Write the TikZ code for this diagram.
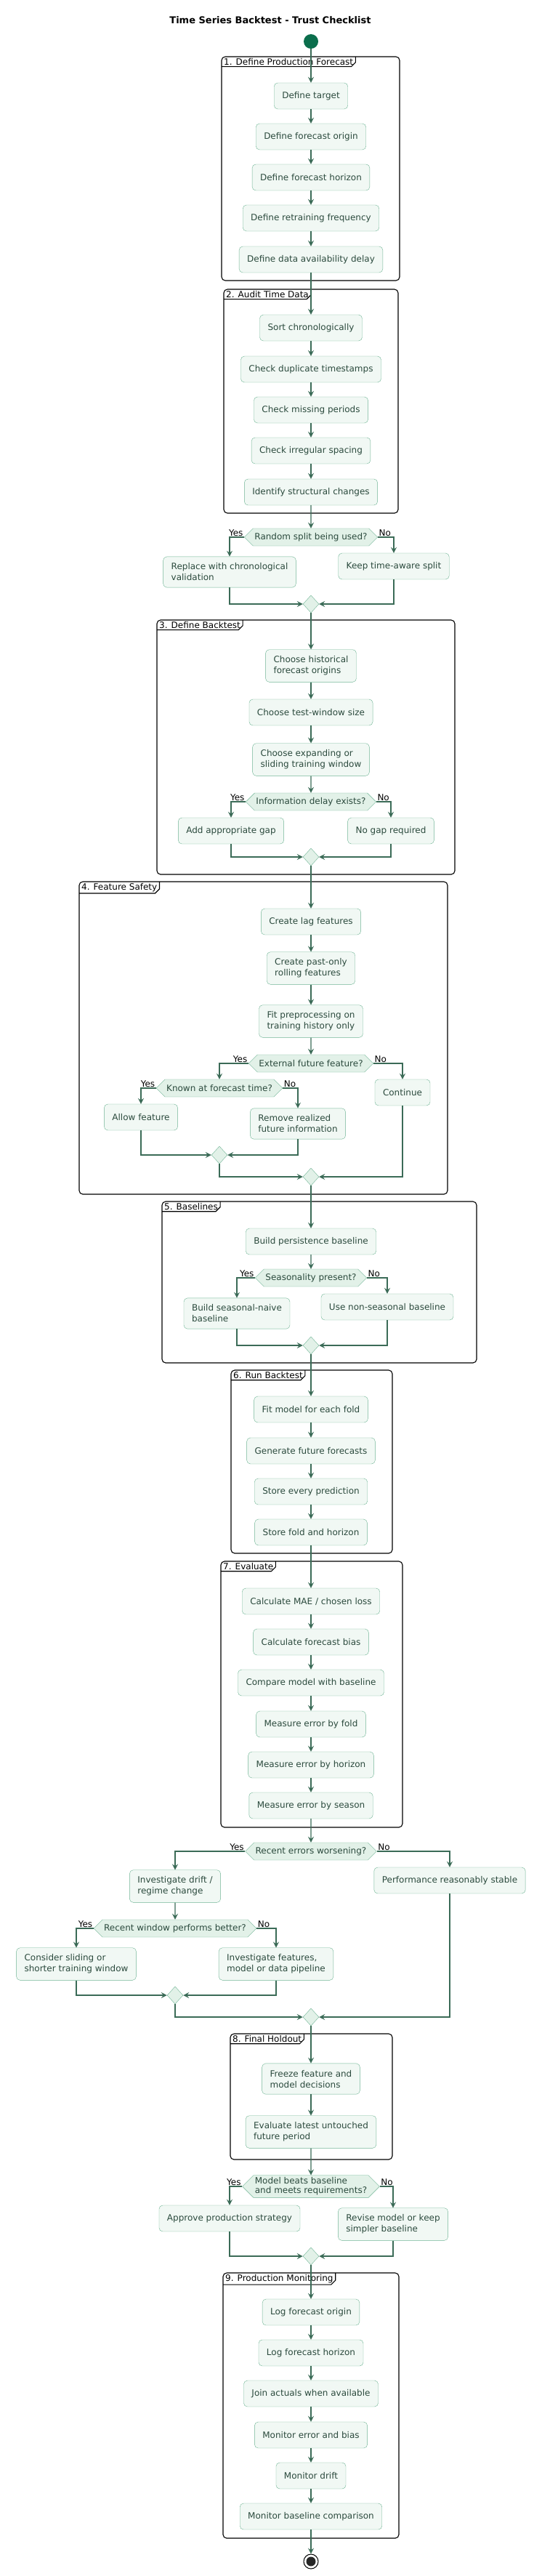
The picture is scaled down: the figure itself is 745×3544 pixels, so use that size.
\documentclass[tikz,border=0pt]{standalone}
\usepackage{fontspec}
\setmainfont{DejaVu Sans}
\usetikzlibrary{shapes.geometric,shapes.symbols,arrows.meta}
\definecolor{actfill}{HTML}{F1F8F4}
\definecolor{actline}{HTML}{6DB393}
\definecolor{decfill}{HTML}{E2F1E8}
\definecolor{flowc}{HTML}{3B6B57}
\definecolor{txtc}{HTML}{2B4A3D}
\definecolor{startc}{HTML}{0B6E4C}
\tikzset{
 act/.style={draw=actline,fill=actfill,rounded corners=5pt,text=txtc,align=left,
  font=\fontsize{12}{15}\selectfont,minimum height=36pt,inner xsep=11pt,inner ysep=9pt},
 dec/.style={draw=actline,fill=decfill,shape=signal,signal to=east and west,text=txtc,align=left,
  font=\fontsize{12}{13}\selectfont,inner xsep=2pt,inner ysep=3pt,minimum height=24pt},
 mrg/.style={draw=actline,fill=decfill,diamond,minimum width=22pt,minimum height=24pt,inner sep=0pt},
 flow/.style={draw=flowc,line width=1.4pt,-{Stealth[length=8pt,width=8pt,inset=3pt]}},
 plain/.style={draw=flowc,line width=1.4pt},
 frm/.style={draw=black,line width=1.1pt,rounded corners=5pt},
 yes/.style={font=\fontsize{12}{13}\selectfont,anchor=south east,inner sep=1pt},
 no/.style={font=\fontsize{12}{13}\selectfont,anchor=south west,inner sep=1pt},
}
% one group frame with its tab
\newcommand{\grp}[6]{%
 \draw[frm] (#1,#2) rectangle (#3,#4);
 \node[anchor=north west,inner xsep=3pt,inner ysep=2pt,font=\fontsize{12}{13}\selectfont] (#5) at (#1,#2) {#6};
 \draw[line width=1.1pt] (#5.south west) -- ([xshift=-6pt]#5.south east) -- ([yshift=6pt]#5.south east) -- (#5.north east);}
\begin{document}
\begin{tikzpicture}[x=1pt,y=-1pt]
 \useasboundingbox (0,0) rectangle (745,3544);
 \node[font=\bfseries\fontsize{13}{15}\selectfont] (title) at (372,28) {Time Series Backtest - Trust Checklist};
 \node[circle,fill=startc,minimum size=20pt,inner sep=0pt] (start) at (428,57) {};
 % groups
 \grp{305}{78}{550}{386}{g1}{1. Define Production Forecast}
 \grp{308}{398}{548}{706}{g2}{2. Audit Time Data}
 \grp{216}{853}{626}{1203}{g3}{3. Define Backtest}
 \grp{109}{1213}{616}{1643}{g4}{4. Feature Safety}
 \grp{223}{1653}{656}{1875}{g5}{5. Baselines}
 \grp{318}{1885}{540}{2137}{g6}{6. Run Backtest}
 \grp{304}{2148}{554}{2514}{g7}{7. Evaluate}
 \grp{317}{2798}{540}{2971}{g8}{8. Final Holdout}
 \grp{307}{3127}{549}{3492}{g9}{9. Production Monitoring}
 % 1
 \node[act] (target) at (428,132) {Define target};
 \node[act] (origin) at (428,188) {Define forecast origin};
 \node[act] (horizon) at (428,244) {Define forecast horizon};
 \node[act] (retrain) at (428,300) {Define retraining frequency};
 \node[act] (delay) at (428,357) {Define data availability delay};
 % 2
 \node[act] (sort) at (428,451) {Sort chronologically};
 \node[act] (dup) at (428,508) {Check duplicate timestamps};
 \node[act] (missing) at (428,564) {Check missing periods};
 \node[act] (irreg) at (428,620) {Check irregular spacing};
 \node[act] (struct) at (428,677) {Identify structural changes};
 \node[dec] (random) at (428,739) {Random split being used?};
 \node[act] (replace) at (316,787) {Replace with chronological\\validation};
 \node[act] (keep) at (542,779) {Keep time-aware split};
 \node[mrg] (m1) at (428,831) {};
 % 3
 \node[act] (hist) at (428,916) {Choose historical\\forecast origins};
 \node[act] (testwin) at (428,980) {Choose test-window size};
 \node[act] (expand) at (428,1045) {Choose expanding or\\sliding training window};
 \node[dec] (infodelay) at (428,1103) {Information delay exists?};
 \node[act] (gap) at (318,1143) {Add appropriate gap};
 \node[act] (nogap) at (538,1143) {No gap required};
 \node[mrg] (m2) at (428,1179) {};
 % 4
 \node[act] (lag) at (428,1268) {Create lag features};
 \node[act] (pastonly) at (428,1332) {Create past-only\\rolling features};
 \node[act] (prep) at (428,1405) {Fit preprocessing on\\training history only};
 \node[dec] (external) at (428,1463) {External future feature?};
 \node[dec] (known) at (302,1497) {Known at forecast time?};
 \node[act] (allow) at (194,1537) {Allow feature};
 \node[act] (remove) at (410,1546) {Remove realized\\future information};
 \node[act] (cont) at (554,1503) {Continue};
 \node[mrg] (m3) at (302,1589) {};
 \node[mrg] (m4) at (428,1619) {};
 % 5
 \node[act] (persist) at (428,1708) {Build persistence baseline};
 \node[dec] (season) at (428,1758) {Seasonality present?};
 \node[act] (naive) at (326,1807) {Build seasonal-naive\\baseline};
 \node[act] (nonseas) at (533,1798) {Use non-seasonal baseline};
 \node[mrg] (m5) at (428,1851) {};
 % 6
 \node[act] (fitfold) at (428,1939) {Fit model for each fold};
 \node[act] (generate) at (428,1996) {Generate future forecasts};
 \node[act] (storepred) at (428,2052) {Store every prediction};
 \node[act] (storefold) at (428,2108) {Store fold and horizon};
 % 7
 \node[act] (mae) at (428,2203) {Calculate MAE / chosen loss};
 \node[act] (bias) at (428,2259) {Calculate forecast bias};
 \node[act] (compare) at (428,2315) {Compare model with baseline};
 \node[act] (byfold) at (428,2372) {Measure error by fold};
 \node[act] (byhor) at (428,2428) {Measure error by horizon};
 \node[act] (byseas) at (428,2484) {Measure error by season};
 \node[dec] (worse) at (428,2547) {Recent errors worsening?};
 \node[act] (drift) at (241,2595) {Investigate drift /\\regime change};
 \node[act] (stable) at (619,2587) {Performance reasonably stable};
 \node[dec] (window) at (241,2653) {Recent window performs better?};
 \node[act] (sliding) at (105,2702) {Consider sliding or\\shorter training window};
 \node[act] (invfeat) at (380,2702) {Investigate features,\\model or data pipeline};
 \node[mrg] (m6) at (241,2745) {};
 \node[mrg] (m7) at (428,2775) {};
 % 8
 \node[act] (freeze) at (428,2860) {Freeze feature and\\model decisions};
 \node[act] (untouched) at (428,2933) {Evaluate latest untouched\\future period};
 \node[dec] (beats) at (428,3008) {Model beats baseline\\and meets requirements?};
 \node[act] (approve) at (316,3052) {Approve production strategy};
 \node[act] (revise) at (541,3060) {Revise model or keep\\simpler baseline};
 \node[mrg] (m8) at (428,3104) {};
 % 9
 \node[act] (logorigin) at (428,3181) {Log forecast origin};
 \node[act] (loghor) at (428,3237) {Log forecast horizon};
 \node[act] (join) at (428,3293) {Join actuals when available};
 \node[act] (monerr) at (428,3350) {Monitor error and bias};
 \node[act] (mondrift) at (428,3406) {Monitor drift};
 \node[act] (monbase) at (428,3462) {Monitor baseline comparison};
 \node[circle,draw=black,fill=white,line width=1pt,minimum size=20pt,inner sep=0pt] (stop) at (428,3524) {};
 \fill[black!85] (stop) circle (6.5pt);
 % straight flows
 \draw[flow] (start) -- (target);
 \draw[flow] (target) -- (origin);
 \draw[flow] (origin) -- (horizon);
 \draw[flow] (horizon) -- (retrain);
 \draw[flow] (retrain) -- (delay);
 \draw[flow] (delay) -- (sort);
 \draw[flow] (sort) -- (dup);
 \draw[flow] (dup) -- (missing);
 \draw[flow] (missing) -- (irreg);
 \draw[flow] (irreg) -- (struct);
 \draw[flow] (struct) -- (random);
 \draw[flow] (m1) -- (hist);
 \draw[flow] (hist) -- (testwin);
 \draw[flow] (testwin) -- (expand);
 \draw[flow] (expand) -- (infodelay);
 \draw[flow] (m2) -- (lag);
 \draw[flow] (lag) -- (pastonly);
 \draw[flow] (pastonly) -- (prep);
 \draw[flow] (prep) -- (external);
 \draw[flow] (m4) -- (persist);
 \draw[flow] (persist) -- (season);
 \draw[flow] (m5) -- (fitfold);
 \draw[flow] (fitfold) -- (generate);
 \draw[flow] (generate) -- (storepred);
 \draw[flow] (storepred) -- (storefold);
 \draw[flow] (storefold) -- (mae);
 \draw[flow] (mae) -- (bias);
 \draw[flow] (bias) -- (compare);
 \draw[flow] (compare) -- (byfold);
 \draw[flow] (byfold) -- (byhor);
 \draw[flow] (byhor) -- (byseas);
 \draw[flow] (byseas) -- (worse);
 \draw[flow] (drift) -- (window);
 \draw[flow] (m7) -- (freeze);
 \draw[flow] (freeze) -- (untouched);
 \draw[flow] (untouched) -- (beats);
 \draw[flow] (m8) -- (logorigin);
 \draw[flow] (logorigin) -- (loghor);
 \draw[flow] (loghor) -- (join);
 \draw[flow] (join) -- (monerr);
 \draw[flow] (monerr) -- (mondrift);
 \draw[flow] (mondrift) -- (monbase);
 \draw[flow] (monbase) -- (stop);
 % branches
 \draw[flow] (random.west) node[yes] {Yes} -| (replace.north);
 \draw[flow] (random.east) node[no] {No} -| (keep.north);
 \draw[flow] (replace.south) |- (m1.west);
 \draw[flow] (keep.south) |- (m1.east);
 \draw[flow] (infodelay.west) node[yes] {Yes} -| (gap.north);
 \draw[flow] (infodelay.east) node[no] {No} -| (nogap.north);
 \draw[flow] (gap.south) |- (m2.west);
 \draw[flow] (nogap.south) |- (m2.east);
 \draw[flow] (external.west) node[yes] {Yes} -| (known.north);
 \draw[flow] (external.east) node[no] {No} -| (cont.north);
 \draw[flow] (known.west) node[yes] {Yes} -| (allow.north);
 \draw[flow] (known.east) node[no] {No} -| (remove.north);
 \draw[flow] (allow.south) |- (m3.west);
 \draw[flow] (remove.south) |- (m3.east);
 \draw[flow] (m3.south) |- (m4.west);
 \draw[flow] (cont.south) |- (m4.east);
 \draw[flow] (season.west) node[yes] {Yes} -| (naive.north);
 \draw[flow] (season.east) node[no] {No} -| (nonseas.north);
 \draw[flow] (naive.south) |- (m5.west);
 \draw[flow] (nonseas.south) |- (m5.east);
 \draw[flow] (worse.west) node[yes] {Yes} -| (drift.north);
 \draw[flow] (worse.east) node[no] {No} -| (stable.north);
 \draw[flow] (window.west) node[yes] {Yes} -| (sliding.north);
 \draw[flow] (window.east) node[no] {No} -| (invfeat.north);
 \draw[flow] (sliding.south) |- (m6.west);
 \draw[flow] (invfeat.south) |- (m6.east);
 \draw[flow] (m6.south) |- (m7.west);
 \draw[flow] (stable.south) |- (m7.east);
 \draw[flow] (beats.west) node[yes] {Yes} -| (approve.north);
 \draw[flow] (beats.east) node[no] {No} -| (revise.north);
 \draw[flow] (approve.south) |- (m8.west);
 \draw[flow] (revise.south) |- (m8.east);
\end{tikzpicture}
\end{document}
